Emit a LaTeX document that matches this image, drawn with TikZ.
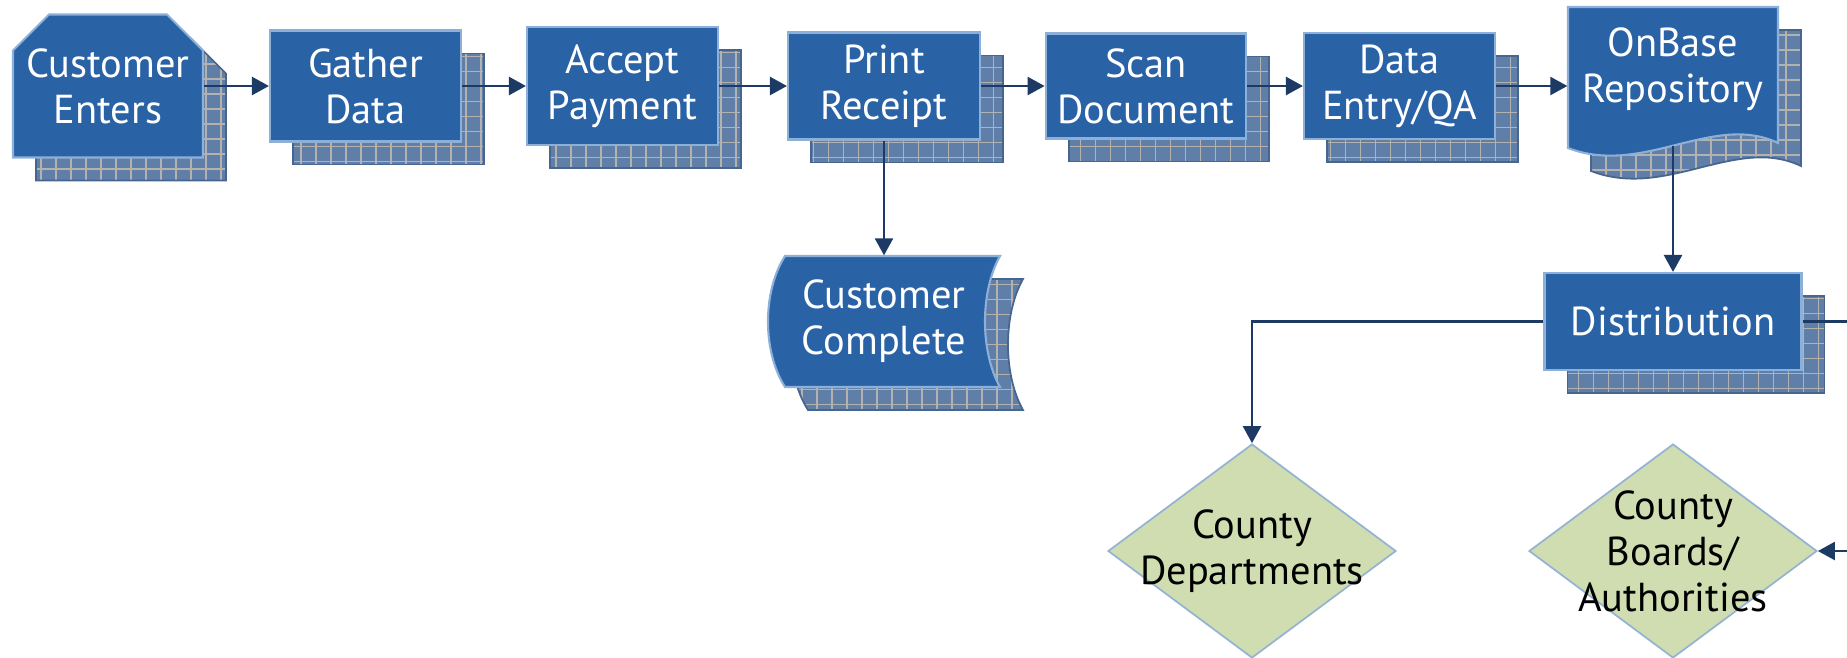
\documentclass[tikz,border=0pt]{standalone}
\usepackage{fontspec}
\setmainfont{PT Sans}
\usetikzlibrary{shapes.geometric,shadows,arrows.meta}

\definecolor{boxblue}{HTML}{2A62A6}
\definecolor{boxedge}{HTML}{8DB0D8}
\definecolor{shadowblue}{HTML}{5F7EA8}
\definecolor{shadowedge}{HTML}{47668F}
\definecolor{gridgray}{HTML}{B4B2AE}
\definecolor{linkblue}{HTML}{1C3A64}
\definecolor{leafgreen}{HTML}{D0DDB0}
\definecolor{leafedge}{HTML}{95B3D3}

\begin{document}
\begin{tikzpicture}
\tikzset{gridshadow/.style={copy shadow={shadow xshift=0.23cm, shadow yshift=-0.23cm,
    fill=shadowblue, draw=shadowedge, line width=0.5pt,
    path picture={\draw[gridgray, line width=0.35pt, step=0.15]
      (path picture bounding box.south west) grid (path picture bounding box.north east);}}}}
\tikzset{boxfill/.style={fill=boxblue, draw=boxedge, line width=0.6pt}}
\tikzset{texte/.style={text=white, align=center, font=\fontsize{11.5}{13.1}\selectfont}}
\tikzset{tache/.style={boxfill, gridshadow, texte}}
\tikzset{losange/.style={diamond, fill=leafgreen, draw=leafedge, line width=0.5pt,
    minimum width=2.88cm, minimum height=2.14cm, inner sep=0pt, align=center,
    font=\fontsize{11.5}{13.1}\selectfont}}
\tikzset{fleche/.style={draw=linkblue, line width=0.7pt, -{Triangle[length=1.7mm,width=1.8mm]}}}
\useasboundingbox (0,0) rectangle (18.47,6.57);
% formes dessinees a la main
\path[boxfill, gridshadow, shift={(1.08,5.71)}] (-0.95,0.355) -- (-0.59,0.715) -- (0.59,0.715)
  -- (0.95,0.355) -- (0.95,-0.715) -- (-0.95,-0.715) -- cycle;
\path[boxfill, gridshadow, shift={(16.73,0)}] (-1.05,6.50) -- (1.05,6.50) -- (1.05,5.14)
  .. controls (0.4,5.45) and (-0.3,4.80) .. (-1.05,5.09) -- cycle;
\path[boxfill, gridshadow, shift={(8.84,3.355)}] (-0.99,0.655) -- (1.16,0.655)
  .. controls (0.96,0.3) and (0.96,-0.3) .. (1.16,-0.655) -- (-0.99,-0.655)
  .. controls (-1.217,-0.3) and (-1.217,0.3) .. cycle;
\node[texte, minimum width=1.90cm, minimum height=1.43cm] (CE) at (1.08,5.71) {Customer\\Enters};
\node[tache, minimum width=1.91cm, minimum height=1.11cm] (GD) at (3.655,5.71) {Gather\\Data};
\node[tache, minimum width=1.91cm, minimum height=1.18cm] (AP) at (6.225,5.71) {Accept\\Payment};
\node[tache, minimum width=1.92cm, minimum height=1.07cm] (PR) at (8.84,5.71) {Print\\Receipt};
\node[tache, minimum width=1.92cm, minimum height=1.05cm] (SD) at (11.46,5.71) {Scan\\Document};
\node[tache, minimum width=1.91cm, minimum height=0.96cm] (DE) at (13.995,5.71) {Data\\Entry/QA};
\node[texte, minimum width=2.10cm, minimum height=1.52cm] (OB) at (16.73,5.88) {OnBase\\Repository};
\node[texte, minimum height=1.31cm] (CC) at (8.84,3.355) {Customer\\Complete};
\node[tache, minimum width=2.57cm, minimum height=0.97cm] (DI) at (16.73,3.355) {Distribution};
\node[losange] (CD) at (12.52,1.06) {\makebox[0pt]{County}\\\makebox[0pt]{Departments}};
\node[losange] (CB) at (16.73,1.06) {\makebox[0pt]{County}\\\makebox[0pt]{Boards/}\\\makebox[0pt]{Authorities}};
\coordinate (sortie) at (18.47,3.355);
\coordinate (entree) at (18.47,1.06);
\draw[fleche] (CE) -- (GD);
\draw[fleche] (GD) -- (AP);
\draw[fleche] (AP) -- (PR);
\draw[fleche] (PR) -- (SD);
\draw[fleche] (SD) -- (DE);
\draw[fleche] (DE) -- (DE -| OB.west);
\draw[fleche] (PR) -- (CC);
\draw[fleche] (OB) -- (DI);
\draw[fleche] (DI.west) -| (CD.north);
\draw[fleche, -] (DI.east) -- (sortie);
\draw[fleche] (entree) -- (CB.east);
\end{tikzpicture}
\end{document}
